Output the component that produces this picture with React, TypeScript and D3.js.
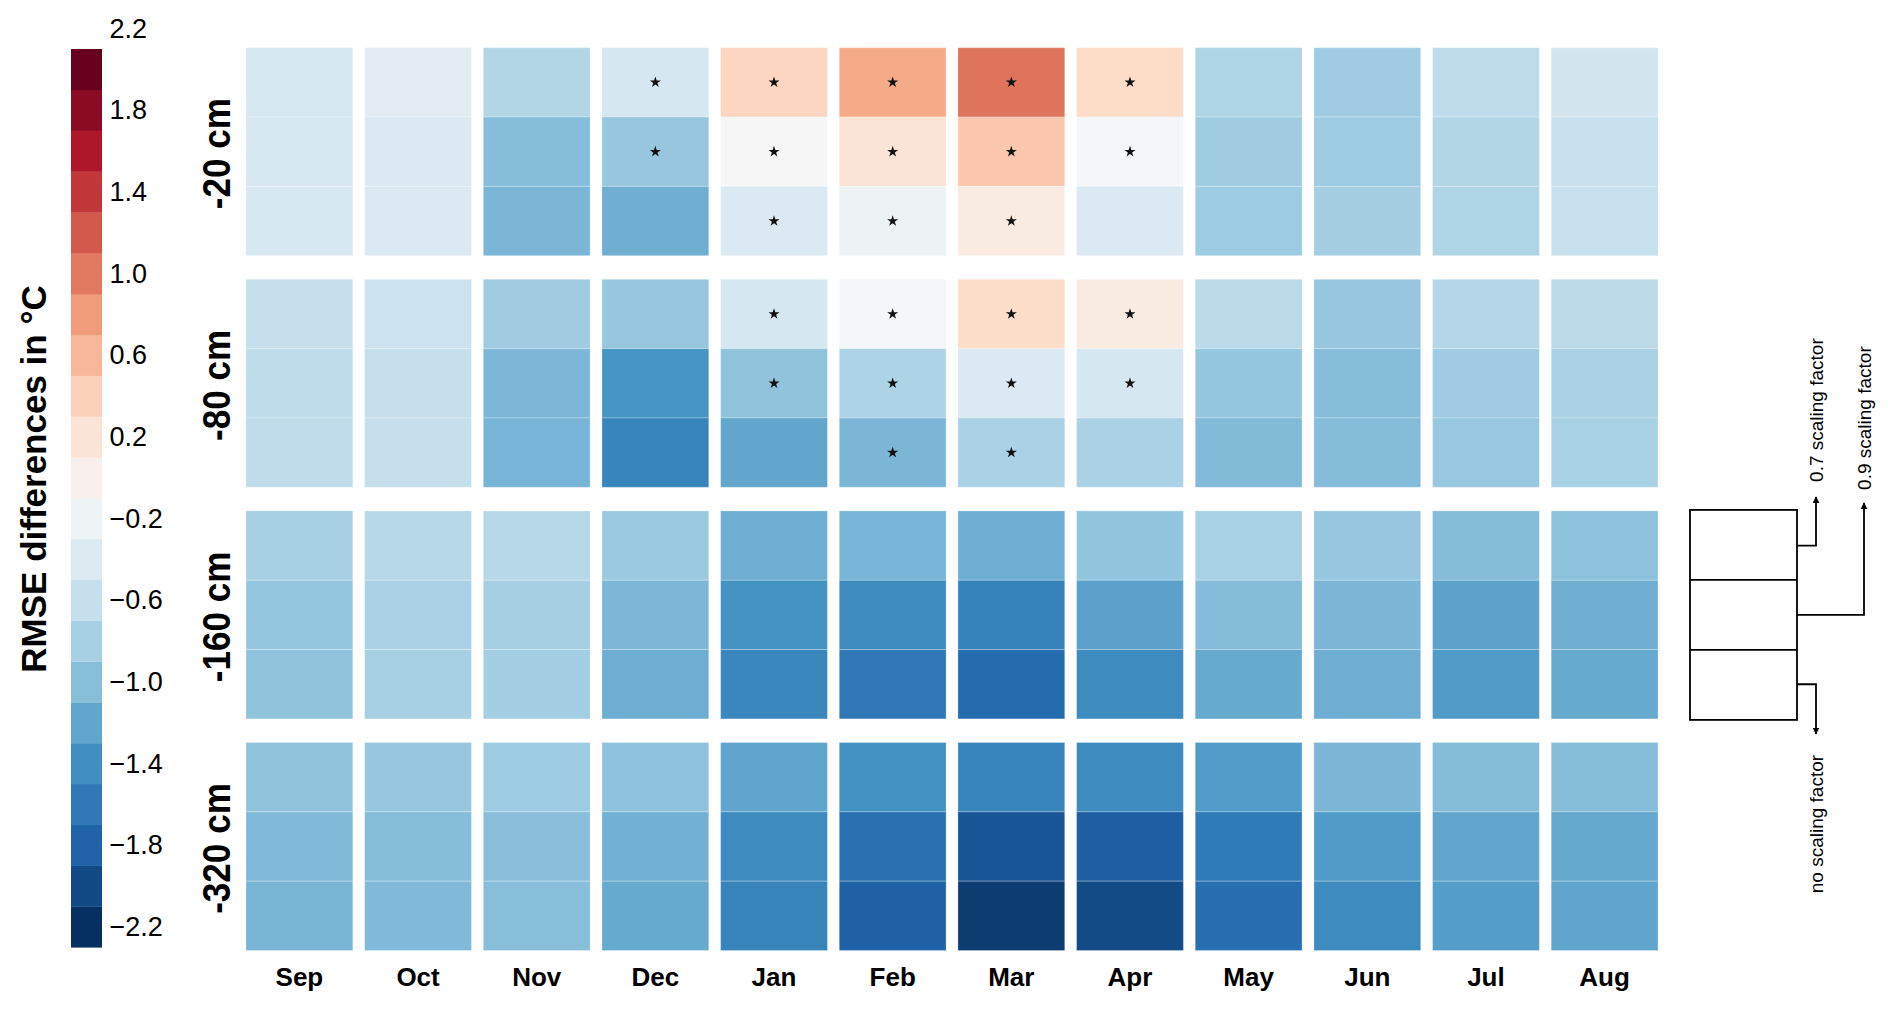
import * as d3 from 'd3';

// months of the hydrological year
const months = ['Sep', 'Oct', 'Nov', 'Dec', 'Jan', 'Feb', 'Mar', 'Apr', 'May', 'Jun', 'Jul', 'Aug'];
const depths = ['-20 cm', '-80 cm', '-160 cm', '-320 cm'];
const scalings = ['0.7 scaling factor', '0.9 scaling factor', 'no scaling factor'];

// RMSE differences (°C); rows = 0.7 / 0.9 / no scaling factor
const rmse20 = [
  [-0.36, -0.26, -0.65, -0.39, 0.48, 0.84, 1.19, 0.43, -0.68, -0.79, -0.57, -0.42],
  [-0.37, -0.33, -0.95, -0.85, 0.01, 0.31, 0.6, -0.03, -0.78, -0.8, -0.65, -0.5],
  [-0.37, -0.33, -1.01, -1.07, -0.32, -0.12, 0.19, -0.32, -0.8, -0.75, -0.68, -0.5],
];
const rmse80 = [
  [-0.52, -0.475, -0.78, -0.85, -0.39, -0.03, 0.4, 0.19, -0.6, -0.85, -0.64, -0.6],
  [-0.57, -0.52, -1.0, -1.3, -0.89, -0.69, -0.33, -0.39, -0.86, -0.95, -0.79, -0.71],
  [-0.56, -0.52, -1.03, -1.46, -1.15, -1.01, -0.71, -0.71, -0.97, -0.96, -0.84, -0.72],
];
const rmse160 = [
  [-0.73, -0.62, -0.62, -0.82, -1.08, -1.03, -1.08, -0.88, -0.72, -0.85, -0.96, -0.91],
  [-0.86, -0.71, -0.74, -1.0, -1.32, -1.4, -1.49, -1.19, -0.96, -1.01, -1.18, -1.07],
  [-0.89, -0.73, -0.76, -1.08, -1.44, -1.57, -1.71, -1.4, -1.12, -1.08, -1.25, -1.12],
];
const rmse320 = [
  [-0.89, -0.85, -0.8, -0.9, -1.16, -1.33, -1.46, -1.4, -1.24, -1.01, -0.96, -0.95],
  [-0.98, -0.95, -0.93, -1.06, -1.39, -1.65, -1.89, -1.82, -1.55, -1.25, -1.15, -1.13],
  [-1.02, -0.98, -0.94, -1.12, -1.47, -1.79, -2.09, -1.98, -1.67, -1.39, -1.22, -1.16],
];

// significance markers (1 = star)
const sig20 = [
  [0, 0, 0, 1, 1, 1, 1, 1, 0, 0, 0, 0],
  [0, 0, 0, 1, 1, 1, 1, 1, 0, 0, 0, 0],
  [0, 0, 0, 0, 1, 1, 1, 0, 0, 0, 0, 0],
];
const sig80 = [
  [0, 0, 0, 0, 1, 1, 1, 1, 0, 0, 0, 0],
  [0, 0, 0, 0, 1, 1, 1, 1, 0, 0, 0, 0],
  [0, 0, 0, 0, 0, 1, 1, 0, 0, 0, 0, 0],
];
const sig160 = [
  [0, 0, 0, 0, 0, 0, 0, 0, 0, 0, 0, 0],
  [0, 0, 0, 0, 0, 0, 0, 0, 0, 0, 0, 0],
  [0, 0, 0, 0, 0, 0, 0, 0, 0, 0, 0, 0],
];
const sig320 = sig160;

const cbTicks = [2.2, 1.8, 1.4, 1.0, 0.6, 0.2, -0.2, -0.6, -1.0, -1.4, -1.8, -2.2];
const vMin = -2.2;
const vMax = 2.2;
const nBins = 22;

const rdbuStops = ['#053061', '#2166ac', '#4393c3', '#92c5de', '#d1e5f0', '#f7f7f7', '#fddbc7', '#f4a582', '#d6604d', '#b2182b', '#67001f'];

const W = 1892;
const H = 1012;
const FONT = '"Liberation Sans", Arial, Helvetica, sans-serif';

export default function App() {
  const values = [rmse20, rmse80, rmse160, rmse320];
  const sigs = [sig20, sig80, sig160, sig320];

  const cmap = d3
    .scaleLinear<string>()
    .domain(rdbuStops.map((_, i) => i / (rdbuStops.length - 1)))
    .range(rdbuStops)
    .interpolate(d3.interpolateRgb)
    .clamp(true);
  const valueColor = (v: number) => cmap((v - vMin) / (vMax - vMin));

  const xScale = d3.scaleBand().domain(months).range([246, 1658]).paddingInner(0.1).paddingOuter(0);
  const yScale = d3.scaleBand().domain(depths).range([47.7, 950.5]).paddingInner(0.102).paddingOuter(0);
  const rowScale = d3.scaleBand().domain(scalings).range([0, yScale.bandwidth()]).padding(0);

  // colorbar
  const cbX = 71;
  const cbW = 31;
  const cbScale = d3.scaleLinear().domain([vMin, vMax]).range([947.3, 49]);
  const binStep = (vMax - vMin) / nBins;
  const bins = d3.range(nBins).map((i) => ({ lo: vMin + i * binStep, hi: vMin + (i + 1) * binStep, c: cmap(i / (nBins - 1)) }));
  // tick labels sit on the middle of the bin above their value (as in the original)
  const halfBin = cbScale(0) - cbScale(binStep / 2);

  const star = d3.symbol().type(d3.symbolStar).size(38)();

  // legend sketch tied to the -160 cm block
  const lgTop = yScale('-160 cm')! - 1;
  const lgH = yScale.bandwidth() + 2;
  const lgX0 = 1690;
  const lgX1 = 1797;
  const rowMid = (s: string) => yScale('-160 cm')! + rowScale(s)! + rowScale.bandwidth() / 2;

  return (
    <svg width={W} height={H} style={{ position: 'absolute', left: 0, top: 0, background: '#fff' }} fontFamily={FONT}>
      <defs>
        <marker id="arr" viewBox="0 0 10 10" refX="9" refY="5" markerWidth="7" markerHeight="7" markerUnits="userSpaceOnUse" orient="auto">
          <path d="M0,0 L10,5 L0,10 z" fill="#000" />
        </marker>
      </defs>

      {/* colorbar */}
      {bins.map((b, i) => (
        <rect key={i} x={cbX} y={cbScale(b.hi)} width={cbW} height={cbScale(b.lo) - cbScale(b.hi) + 0.3} fill={b.c} />
      ))}
      {cbTicks.map((t) => (
        <text key={t} x={109.5} y={cbScale(t) - halfBin} fontSize={27} dominantBaseline="central" fill="#000">
          {t < 0 ? '\u2212' + Math.abs(t).toFixed(1) : t.toFixed(1)}
        </text>
      ))}
      <text transform="translate(33,479) rotate(-90)" textAnchor="middle" dominantBaseline="central" fontWeight="bold" fontSize={35}>
        RMSE differences in °C
      </text>

      {/* heatmap */}
      {depths.map((d, di) => (
        <g key={d} transform={`translate(0,${yScale(d)})`}>
          {scalings.map((s, si) =>
            months.map((m, mi) => {
              const v = values[di][si][mi];
              const x = xScale(m)!;
              const y = rowScale(s)!;
              return (
                <g key={m + s}>
                  <rect
                    x={x}
                    y={y}
                    width={xScale.bandwidth()}
                    height={rowScale.bandwidth()}
                    fill={valueColor(v)}
                    stroke="#fff"
                    strokeOpacity={0.25}
                    strokeWidth={1}
                  />
                  {sigs[di][si][mi] === 1 && (
                    <path d={star!} transform={`translate(${x + xScale.bandwidth() / 2},${y + rowScale.bandwidth() / 2})`} fill="#111" />
                  )}
                </g>
              );
            })
          )}
          <text
            transform={`translate(216,${yScale.bandwidth() / 2 + 2}) rotate(-90) scale(0.9,1)`}
            textAnchor="middle"
            dominantBaseline="central"
            fontWeight="bold"
            fontSize={39}
          >
            {d}
          </text>
        </g>
      ))}

      {/* month labels */}
      {months.map((m) => (
        <text key={m} x={xScale(m)! + xScale.bandwidth() / 2} y={977} textAnchor="middle" dominantBaseline="central" fontWeight="bold" fontSize={26}>
          {m}
        </text>
      ))}

      {/* legend sketch */}
      <g fill="none" stroke="#000" strokeWidth={1.8}>
        <rect x={lgX0} y={lgTop} width={lgX1 - lgX0} height={lgH} />
        <line x1={lgX0} x2={lgX1} y1={lgTop + lgH / 3} y2={lgTop + lgH / 3} />
        <line x1={lgX0} x2={lgX1} y1={lgTop + (2 * lgH) / 3} y2={lgTop + (2 * lgH) / 3} />
        <path d={`M${lgX1},${rowMid(scalings[0])} H1816 V${lgTop - 13}`} markerEnd="url(#arr)" />
        <path d={`M${lgX1},${rowMid(scalings[1])} H1864 V${lgTop - 7}`} markerEnd="url(#arr)" />
        <path d={`M${lgX1},${rowMid(scalings[2])} H1816 V${lgTop + lgH + 14}`} markerEnd="url(#arr)" />
      </g>
      <g fontSize={19} fill="#000">
        <text transform={`translate(1816,${lgTop - 28}) rotate(-90)`} dominantBaseline="central">
          {scalings[0]}
        </text>
        <text transform={`translate(1864,${lgTop - 20}) rotate(-90)`} dominantBaseline="central">
          {scalings[1]}
        </text>
        <text transform={`translate(1816,${lgTop + lgH + 35}) rotate(-90)`} textAnchor="end" dominantBaseline="central">
          {scalings[2]}
        </text>
      </g>
    </svg>
  );
}
